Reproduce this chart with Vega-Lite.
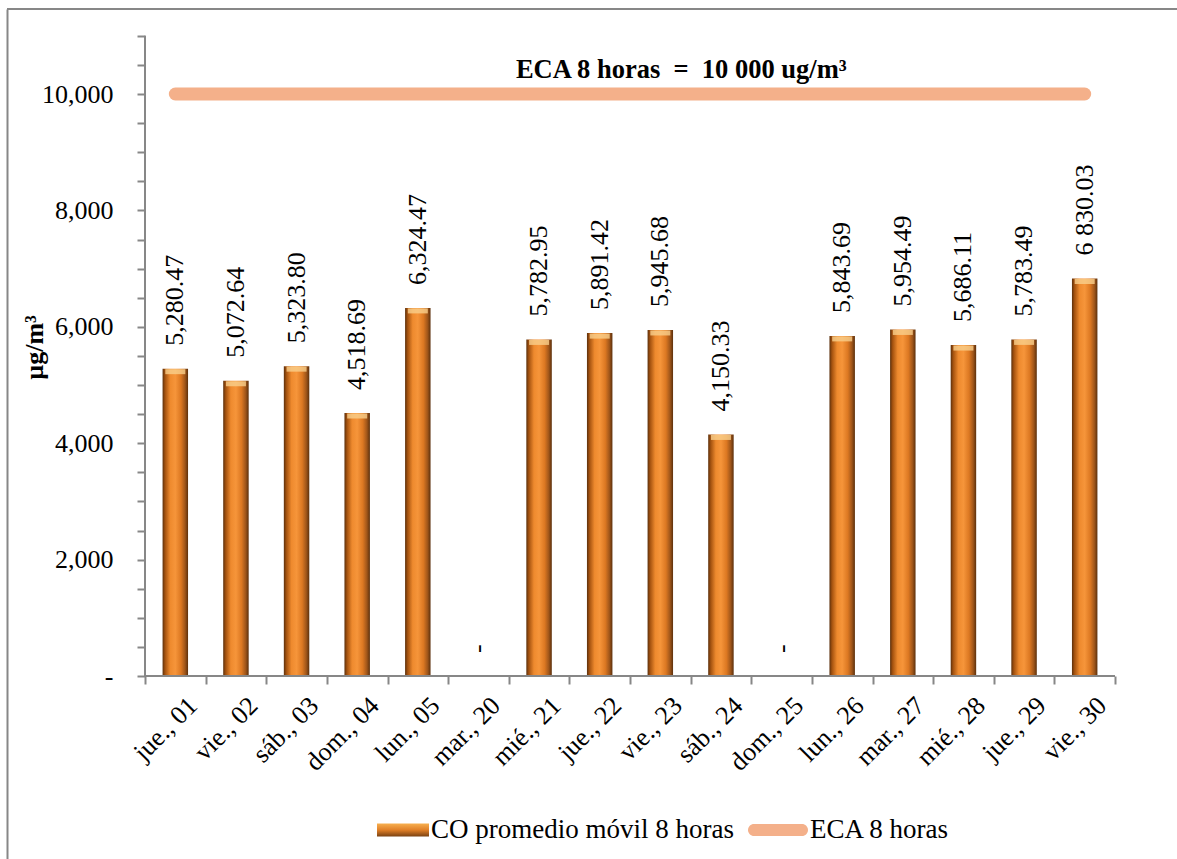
{
  "$schema": "https://vega.github.io/schema/vega-lite/v6.json",
  "width": 1170,
  "height": 850,
  "autosize": "none",
  "padding": {"left": 7, "top": 9, "right": 0, "bottom": 0},
  "background": "white",
  "config": {"view": {"stroke": null}, "font": "Liberation Serif"},
  "data": {"values": [
    {"dia": "jue., 01", "valor": 5280.47, "etiqueta": "5,280.47", "eca": 10000, "serie": "ECA 8 horas"},
    {"dia": "vie., 02", "valor": 5072.64, "etiqueta": "5,072.64", "eca": 10000, "serie": "ECA 8 horas"},
    {"dia": "sáb., 03", "valor": 5323.80, "etiqueta": "5,323.80", "eca": 10000, "serie": "ECA 8 horas"},
    {"dia": "dom., 04", "valor": 4518.69, "etiqueta": "4,518.69", "eca": 10000, "serie": "ECA 8 horas"},
    {"dia": "lun., 05", "valor": 6324.47, "etiqueta": "6,324.47", "eca": 10000, "serie": "ECA 8 horas"},
    {"dia": "mar., 20", "valor": 0, "etiqueta": "-", "eca": 10000, "serie": "ECA 8 horas"},
    {"dia": "mié., 21", "valor": 5782.95, "etiqueta": "5,782.95", "eca": 10000, "serie": "ECA 8 horas"},
    {"dia": "jue., 22", "valor": 5891.42, "etiqueta": "5,891.42", "eca": 10000, "serie": "ECA 8 horas"},
    {"dia": "vie., 23", "valor": 5945.68, "etiqueta": "5,945.68", "eca": 10000, "serie": "ECA 8 horas"},
    {"dia": "sáb., 24", "valor": 4150.33, "etiqueta": "4,150.33", "eca": 10000, "serie": "ECA 8 horas"},
    {"dia": "dom., 25", "valor": 0, "etiqueta": "-", "eca": 10000, "serie": "ECA 8 horas"},
    {"dia": "lun., 26", "valor": 5843.69, "etiqueta": "5,843.69", "eca": 10000, "serie": "ECA 8 horas"},
    {"dia": "mar., 27", "valor": 5954.49, "etiqueta": "5,954.49", "eca": 10000, "serie": "ECA 8 horas"},
    {"dia": "mié., 28", "valor": 5686.11, "etiqueta": "5,686.11", "eca": 10000, "serie": "ECA 8 horas"},
    {"dia": "jue., 29", "valor": 5783.49, "etiqueta": "5,783.49", "eca": 10000, "serie": "ECA 8 horas"},
    {"dia": "vie., 30", "valor": 6830.03, "etiqueta": "6 830.03", "eca": 10000, "serie": "ECA 8 horas"}
  ]},
  "resolve": {"axis": {"x": "independent", "y": "independent"}},
  "layer": [
    {
      "mark": {"type": "bar", "width": {"band": 0.42},
        "fill": {"gradient": "linear", "x1": 0, "y1": 0, "x2": 1, "y2": 0, "stops": [
          {"offset": 0, "color": "#5c300c"},
          {"offset": 0.1, "color": "#a4520f"},
          {"offset": 0.3, "color": "#ee8a2e"},
          {"offset": 0.5, "color": "#f6953a"},
          {"offset": 0.72, "color": "#dc7822"},
          {"offset": 0.88, "color": "#a0561a"},
          {"offset": 1, "color": "#5c300c"}
        ]}},
      "encoding": {
        "x": {"field": "dia", "type": "nominal", "sort": null,
          "scale": {"domain": ["jue., 01","vie., 02","sáb., 03","dom., 04","lun., 05","mar., 20","mié., 21","jue., 22","vie., 23","sáb., 24","dom., 25","lun., 26","mar., 27","mié., 28","jue., 29","vie., 30"],
            "range": [138, 1108], "paddingInner": 0, "paddingOuter": 0},
          "axis": {"orient": "bottom", "offset": -183, "domain": false, "tickBand": "extent", "tickSize": 8, "tickWidth": 2, "tickColor": "#878787",
            "labelAngle": -45, "labelAlign": "right", "labelBaseline": "top", "labelPadding": 8, "labelOffset": 8,
            "labelFont": "Liberation Serif", "labelFontSize": 26, "labelColor": "#000", "labelOverlap": false, "labelBound": false, "title": null, "grid": false}},
        "y": {"field": "valor", "type": "quantitative",
          "scale": {"domain": [-3144.3, 11460.5], "nice": false, "zero": false},
          "axis": {"orient": "left", "offset": -138, "domain": false,
            "values": [0,500,1000,1500,2000,2500,3000,3500,4000,4500,5000,5500,6000,6500,7000,7500,8000,8500,9000,9500,10000,10500,11000],
            "labelExpr": "datum.value % 2000 === 0 && datum.value <= 10000 ? (datum.value === 0 ? '-' : format(datum.value, ',')) : ''",
            "tickSize": 8, "tickWidth": 2, "tickColor": "#878787", "labelPadding": 24,
            "labelFont": "Liberation Serif", "labelFontSize": 26, "labelColor": "#000", "labelOverlap": false, "labelBound": false, "grid": false,
            "title": "µg/m³", "titleFont": "Liberation Serif", "titleFontSize": 26, "titleFontWeight": "bold", "titleColor": "#000",
            "titleAngle": 270, "titleAlign": "center", "titleBaseline": "bottom", "titleX": -98, "titleY": 338}},
        "y2": {"datum": 0}
      }
    },
    {
      "transform": [{"filter": "datum.valor > 0"}],
      "mark": {"type": "tick", "orient": "horizontal", "size": 20, "thickness": 5, "color": "#f9cf8c", "yOffset": 3, "opacity": 0.8},
      "encoding": {
        "x": {"field": "dia", "type": "nominal", "sort": null, "axis": null},
        "y": {"field": "valor", "type": "quantitative", "axis": null}
      }
    },
    {
      "mark": {"type": "text", "angle": 270, "align": "left", "baseline": "middle", "dx": 23, "font": "Liberation Serif", "fontSize": 26, "color": "#000"},
      "encoding": {
        "x": {"field": "dia", "type": "nominal", "sort": null, "axis": null},
        "y": {"field": "valor", "type": "quantitative", "axis": null},
        "text": {"field": "etiqueta"}
      }
    },
    {
      "mark": {"type": "line", "strokeWidth": 13, "strokeCap": "round"},
      "encoding": {
        "x": {"field": "dia", "type": "nominal", "sort": null, "axis": null},
        "y": {"field": "eca", "type": "quantitative",
          "axis": {"orient": "left", "offset": 0, "domain": true, "domainColor": "#878787", "domainWidth": 2, "ticks": false, "labels": false, "title": null, "grid": false}},
        "color": {"field": "serie", "type": "nominal",
          "scale": {"domain": ["CO promedio móvil 8 horas", "ECA 8 horas"], "range": ["#E07F27", "#F4B08A"]},
          "legend": {"orient": "none", "legendX": 362, "legendY": 791, "direction": "horizontal", "columns": 2, "title": null,
            "labelFont": "Liberation Serif", "labelFontSize": 27, "labelColor": "#000", "labelOffset": 2, "columnPadding": 14,
            "symbolSize": 3600, "padding": 0, "labelLimit": 500,
            "encode": {"symbols": {"update": {
              "shape": [{"test": "datum.value === 'ECA 8 horas'", "value": "M-0.8,-0.2H0.8A0.2,0.2 0 0 1 0.8,0.2H-0.8A0.2,0.2 0 0 1 -0.8,-0.2Z"}, {"value": "M-0.733,-0.217H1V0.217H-0.733Z"}],
              "fill": [{"test": "datum.value === 'ECA 8 horas'", "value": "#F4B08A"}, {"value": {"gradient": "linear", "x1": 0, "y1": 0, "x2": 0, "y2": 1, "stops": [{"offset": 0, "color": "#f7b050"}, {"offset": 0.5, "color": "#e07f27"}, {"offset": 1, "color": "#7a4212"}]}}],
              "stroke": {"value": "transparent"},
              "strokeWidth": {"value": 0},
              "opacity": {"value": 1},
              "size": {"value": 3600}
            }}}}
        }
      }
    },
    {
      "data": {"values": [{}]},
      "mark": {"type": "rule", "color": "#878787", "strokeWidth": 2},
      "encoding": {
        "y": {"datum": 11460.5, "type": "quantitative", "axis": null}
      }
    },
    {
      "data": {"values": [{}]},
      "mark": {"type": "rule", "color": "#878787", "strokeWidth": 2, "xOffset": -30.31, "x2Offset": 30.31},
      "encoding": {
        "x": {"datum": "jue., 01", "type": "nominal", "axis": null},
        "x2": {"datum": "vie., 30"},
        "y": {"datum": 0, "type": "quantitative", "axis": null}
      }
    },
    {
      "data": {"values": [{}]},
      "mark": {"type": "rule", "color": "#878787", "strokeWidth": 2, "xOffset": -30.31},
      "encoding": {
        "x": {"datum": "jue., 01", "type": "nominal", "axis": null},
        "y": {"datum": 0, "type": "quantitative", "axis": null},
        "y2": {"datum": 11000}
      }
    },
    {
      "data": {"values": [{"t": "ECA 8 horas \u00a0=\u00a0 10 000 ug/m³"}]},
      "mark": {"type": "text", "font": "Liberation Serif", "fontSize": 26.5, "fontWeight": "bold", "align": "center", "baseline": "alphabetic", "dx": 21, "color": "#000"},
      "encoding": {
        "x": {"datum": "vie., 23", "type": "nominal", "axis": null},
        "y": {"datum": 10283, "type": "quantitative", "axis": null},
        "text": {"field": "t"}
      }
    }
  ]
}
